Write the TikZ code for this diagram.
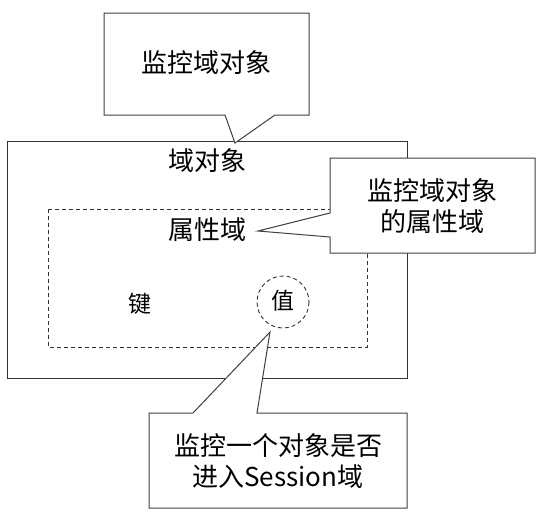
\documentclass[tikz,border=0pt]{standalone}
\usepackage{fontspec}
\setmainfont{Noto Sans CJK SC}
\begin{document}
\begin{tikzpicture}[x=1pt,y=-1pt,line join=miter,
  frame/.style={draw=black!80,line width=0.9pt},
  dash box/.style={draw=black!80,line width=0.9pt,dash pattern=on 4pt off 3pt},
  callout/.style={draw=black!75,line width=1pt,fill=white},
  big/.style={font=\fontsize{26}{31}\selectfont,inner sep=0pt,align=center},
  small/.style={font=\fontsize{23}{28}\selectfont,inner sep=0pt}]
\useasboundingbox (0,0) rectangle (544,523);
% outer domain object
\draw[frame] (7,141) rectangle (407,378);
\node[big] (dom) at (207,161) {域对象};
% attribute domain
\draw[dash box] (48,209) rectangle (367,347);
\node[big] (attr) at (207,230) {属性域};
\node[small] (key) at (140,304) {键};
\node[small] (val) at (283,301) {值};
\draw[dash box] (283,302) circle (26);
% callout 1
\draw[callout] (104,13) -- (309,13) -- (309,115) -- (275,115) -- (235,143) -- (225,115) -- (104,115) -- cycle;
\node[big] (c1) at (206.5,63) {监控域对象};
% callout 2
\draw[callout] (330,158) -- (535,158) -- (535,253) -- (330,253) -- (330,237) -- (258,231) -- (330,213) -- cycle;
\node[big] (c2) at (432,206) {监控域对象\\的属性域};
% callout 3
\draw[callout] (149,413) -- (193,413) -- (270,332) -- (257,413) -- (407,413) -- (407,508) -- (149,508) -- cycle;
\node[big] (c3) at (278,461) {监控一个对象是否\\进入Session域};
\end{tikzpicture}
\end{document}
